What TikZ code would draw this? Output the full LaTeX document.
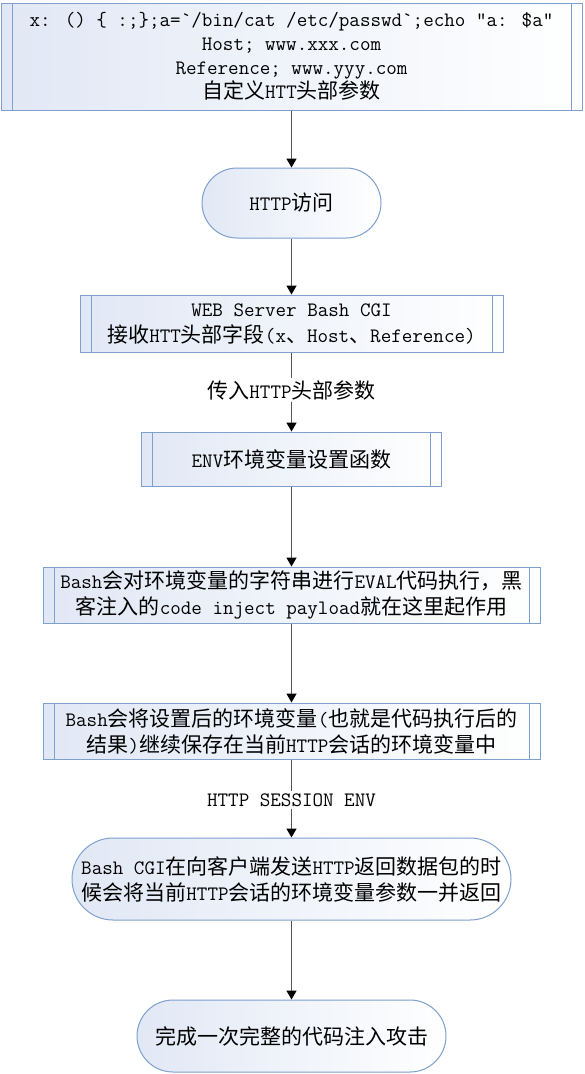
\documentclass[tikz,border=0pt]{standalone}
\usepackage{fontspec}
\setmainfont{Noto Sans CJK SC}
\newfontfamily\latf[Scale=0.975,Ligatures=TeXOff]{Latin Modern Mono}
\newcommand\lt[1]{{\latf #1}}
\usetikzlibrary{arrows.meta}
\definecolor{bord}{RGB}{125,160,205}
\definecolor{fillA}{RGB}{225,232,245}
\definecolor{conn}{RGB}{85,85,85}
\begin{document}
\begin{tikzpicture}[x=1pt,y=-1pt,
  base/.style={draw=bord, line width=1pt, left color=fillA, right color=white,
    inner sep=0pt, align=center, font=\fontsize{21}{26}\selectfont},
  procbox/.style={base, rectangle, path picture={
    \draw[bord, line width=1pt]
      ([xshift=11pt]path picture bounding box.north west) -- ([xshift=11pt]path picture bounding box.south west)
      ([xshift=-11pt]path picture bounding box.north east) -- ([xshift=-11pt]path picture bounding box.south east);}},
  term/.style={base, rounded corners=#1},
  lbl/.style={fill=white, inner sep=2pt, font=\fontsize{21}{26}\selectfont},
  conline/.style={draw=conn, line width=1.5pt},
  arr/.style={conline, -{Triangle[length=9pt,width=10pt,fill=black,color=black]}}
]
\useasboundingbox (0,0) rectangle (584,1074);

\node[procbox, minimum width=581pt, minimum height=107pt, font=\fontsize{21}{24}\selectfont] (top) at (291.5,56.5)
  {\lt{x: () \{ :;\};a=`/bin/cat /etc/passwd`;echo "a: \$a"}\\
   \lt{Host; www.xxx.com}\\
   \lt{Reference; www.yyy.com}\\
   自定义\lt{HTT}头部参数};

\node[term=35pt, minimum width=179pt, minimum height=70pt] (http) at (291.5,203) {\lt{HTTP}访问};

\node[procbox, minimum width=423pt, minimum height=57pt] (web) at (291.5,323.5)
  {\lt{WEB Server Bash CGI}\\ 接收\lt{HTT}头部字段\lt{(x}、\lt{Host}、\lt{Reference)}};

\node[lbl] (l1) at (291.5,390) {传入\lt{HTTP}头部参数};

\node[procbox, minimum width=300pt, minimum height=54pt] (env) at (291.5,459) {\lt{ENV}环境变量设置函数};

\node[procbox, minimum width=497pt, minimum height=56pt] (b1) at (291.5,595)
  {\lt{Bash}会对环境变量的字符串进行\lt{EVAL}代码执行，黑\\ 客注入的\lt{code inject payload}就在这里起作用};

\node[procbox, minimum width=497pt, minimum height=56pt] (b2) at (291.5,731)
  {\lt{Bash}会将设置后的环境变量\lt{(}也就是代码执行后的\\ 结果\lt{)}继续保存在当前\lt{HTTP}会话的环境变量中};

\node[lbl] (l2) at (291.5,800) {\lt{HTTP SESSION ENV}};

\node[term=41pt, minimum width=439pt, minimum height=82pt] (cgi) at (291.5,879)
  {\lt{Bash CGI}在向客户端发送\lt{HTTP}返回数据包的时\\ 候会将当前\lt{HTTP}会话的环境变量参数一并返回};

\node[term=36pt, minimum width=309pt, minimum height=72pt] (done) at (291.5,1036) {完成一次完整的代码注入攻击};

\draw[arr] (top) -- (http);
\draw[arr] (http) -- (web);
\draw[conline] (web) -- (l1);
\draw[arr] (l1) -- (env);
\draw[arr] (env) -- (b1);
\draw[arr] (b1) -- (b2);
\draw[conline] (b2) -- (l2);
\draw[arr] (l2) -- (cgi);
\draw[arr] (cgi) -- (done);
\end{tikzpicture}
\end{document}
